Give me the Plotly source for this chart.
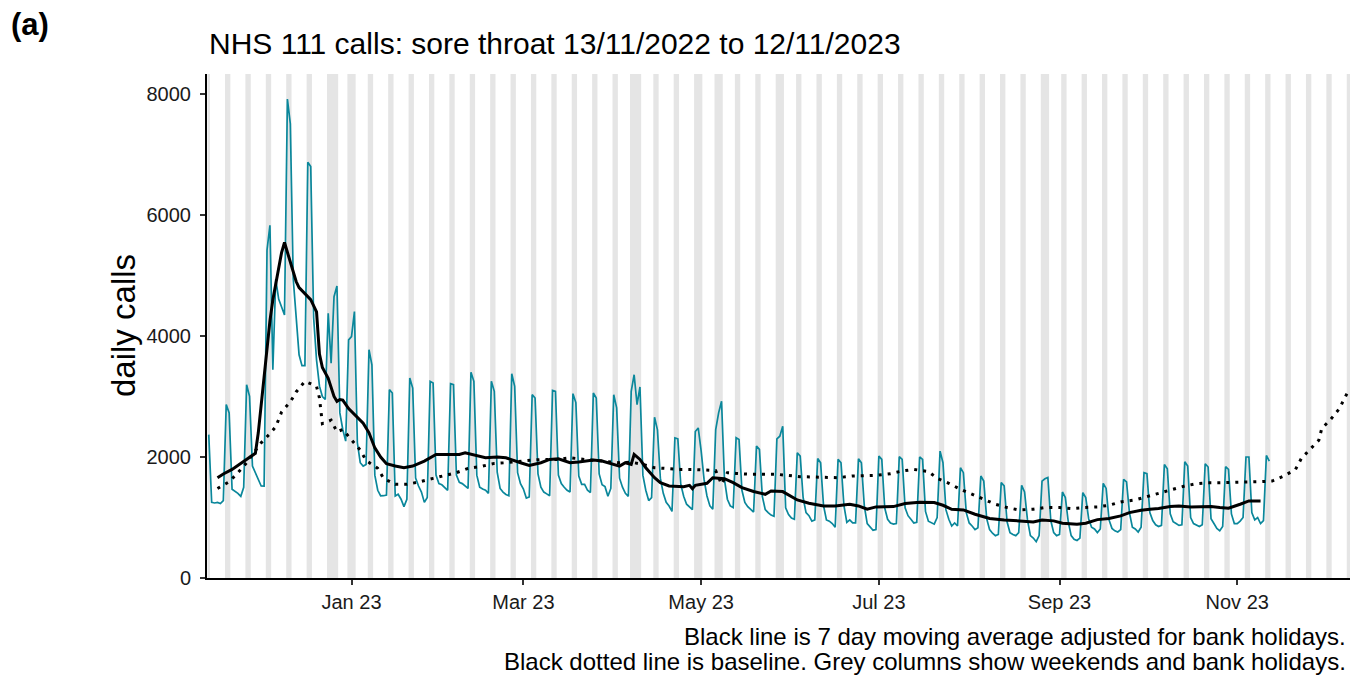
import plotly.graph_objects as go
import pandas as pd

# ---------------- data ----------------
start_date = "2022-11-13"

# daily NHS 111 calls (first value is Sun 13/11/2022, then Mon..Sun weeks)
daily_calls = [
    2370,
    1250, 1240, 1250, 1230, 1280, 2866, 2729,
    1466, 1433, 1400, 1350, 1500, 3195, 3004,
    1850, 1741, 1631, 1521, 1520, 5419, 5830,
    3442, 4941, 4610, 4480, 4348, 7917, 7505,
    4941, 4270, 3690, 3509, 3509, 6873, 6802,
    4300, 3600, 3170, 3000, 2950, 4376, 3552,
    4650, 4826, 2729, 2454, 2262, 3936, 3991,
    4403, 2235, 1905, 1850, 1877, 3772, 3525,
    1700, 1450, 1356, 1360, 1370, 3113, 3058,
    1356, 1384, 1302, 1180, 1302, 3305, 3140,
    1650, 1520, 1420, 1250, 1330, 3250, 3223,
    1700, 1560, 1540, 1500, 1450, 3212, 3195,
    1700, 1580, 1560, 1520, 1480, 3400, 3250,
    1700, 1500, 1470, 1450, 1400, 3250, 3085,
    1750, 1480, 1420, 1380, 1360, 3375, 3168,
    1740, 1560, 1470, 1320, 1340, 3030, 2975,
    1720, 1500, 1420, 1390, 1360, 3100, 3085,
    1700, 1560, 1500, 1450, 1420, 3047, 2900,
    1686, 1548, 1548, 1450, 1412, 3058, 2975,
    1720, 1540, 1510, 1350, 1480, 3030, 2811,
    1650, 1500, 1400, 1350, 3085, 3360, 2866,
    3157, 1700, 1450, 1280, 1330, 2658, 2449,
    1650, 1400, 1250, 1190, 1100, 2317, 2300,
    1550, 1350, 1220, 1180, 1130, 2420, 2480,
    2100, 1630, 1356, 1192, 1136, 2454, 2729,
    2921, 1630, 1302, 1192, 1164, 2317, 2289,
    1450, 1250, 1180, 1130, 1090, 2180, 2125,
    1350, 1130, 1080, 1040, 1020, 2300, 2344,
    2509, 1160, 1050, 990, 970, 2070, 2015,
    1330, 1080, 1030, 940, 960, 1976, 1905,
    1200, 960, 940, 900, 840, 1960, 1905,
    1200, 920, 960, 910, 910, 1970, 1905,
    1190, 900, 840, 790, 800, 2015, 1960,
    1160, 970, 910, 890, 900, 2004, 1960,
    1160, 1030, 970, 910, 920, 2000, 1960,
    1100, 940, 910, 890, 1000, 2097, 1905,
    1130, 970, 860, 910, 860, 1823, 1741,
    1080, 910, 860, 800, 830, 1686, 1603,
    980, 800, 740, 700, 720, 1576, 1521,
    930, 750, 720, 700, 750, 1532, 1422,
    960, 700, 660, 600, 700, 1600, 1640,
    1660, 950, 750, 700, 720, 1422, 1330,
    930, 700, 640, 620, 660, 1412, 1330,
    980, 840, 810, 750, 810, 1565, 1480,
    960, 820, 780, 760, 800, 1631, 1587,
    1080, 840, 810, 760, 840, 1741, 1724,
    1080, 950, 880, 850, 870, 1877, 1806,
    1060, 930, 900, 870, 880, 1921, 1850,
    1000, 900, 870, 850, 880, 1888, 1834,
    980, 900, 820, 780, 850, 1839, 1795,
    1060, 900, 900, 940, 1000, 2000, 2000,
    1080, 960, 1000, 900, 950, 2026, 1933,
]

# 7 day moving average (black line)
ma_dates = [
    "2022-11-16", "2022-11-18", "2022-11-21", "2022-11-23", "2022-11-25", "2022-11-27",
    "2022-11-29", "2022-11-30", "2022-12-01", "2022-12-02", "2022-12-03", "2022-12-04",
    "2022-12-05", "2022-12-06", "2022-12-07", "2022-12-08", "2022-12-09", "2022-12-10",
    "2022-12-11", "2022-12-12", "2022-12-13", "2022-12-14", "2022-12-16", "2022-12-18",
    "2022-12-20", "2022-12-21", "2022-12-22", "2022-12-24", "2022-12-26", "2022-12-27",
    "2022-12-28", "2022-12-29", "2022-12-31", "2023-01-02", "2023-01-04", "2023-01-05",
    "2023-01-07", "2023-01-09", "2023-01-11", "2023-01-13", "2023-01-16", "2023-01-19",
    "2023-01-22", "2023-01-26", "2023-01-30", "2023-02-04", "2023-02-07", "2023-02-09",
    "2023-02-13", "2023-02-16", "2023-02-20", "2023-02-23", "2023-02-28", "2023-03-03",
    "2023-03-07", "2023-03-10", "2023-03-13", "2023-03-17", "2023-03-20", "2023-03-25",
    "2023-03-28", "2023-04-01", "2023-04-03", "2023-04-05", "2023-04-07", "2023-04-08",
    "2023-04-10", "2023-04-12", "2023-04-15", "2023-04-17", "2023-04-20", "2023-04-25",
    "2023-04-27", "2023-04-28", "2023-04-29", "2023-05-03", "2023-05-05", "2023-05-09",
    "2023-05-12", "2023-05-15", "2023-05-19", "2023-05-23", "2023-05-25", "2023-05-29",
    "2023-06-03", "2023-06-07", "2023-06-12", "2023-06-16", "2023-06-21", "2023-06-24",
    "2023-06-27", "2023-06-30", "2023-07-06", "2023-07-10", "2023-07-15", "2023-07-20",
    "2023-07-23", "2023-07-26", "2023-07-30", "2023-08-03", "2023-08-08", "2023-08-13",
    "2023-08-17", "2023-08-23", "2023-08-26", "2023-08-30", "2023-09-02", "2023-09-07",
    "2023-09-10", "2023-09-14", "2023-09-18", "2023-09-22", "2023-09-25", "2023-09-29",
    "2023-10-02", "2023-10-05", "2023-10-09", "2023-10-12", "2023-10-16", "2023-10-19",
    "2023-10-23", "2023-10-26", "2023-10-29", "2023-11-02", "2023-11-05", "2023-11-09",
]
ma_values = [
    1658, 1720, 1795, 1860, 1916, 1990,
    2060, 2400, 2850, 3280, 3820, 4250,
    4600, 4880, 5140, 5380, 5545, 5380,
    5200, 5050, 4900, 4800, 4700, 4600,
    4400, 3700, 3480, 3300, 3000, 2920,
    2950, 2940, 2800, 2700, 2600, 2560,
    2400, 2150, 2000, 1890, 1850, 1823,
    1850, 1933, 2042, 2042, 2042, 2070,
    2026, 1987, 2000, 1987, 1905, 1861,
    1905, 1960, 1970, 1905, 1916, 1949,
    1933, 1877, 1850, 1905, 1877, 2042,
    1960, 1823, 1658, 1576, 1521, 1510,
    1532, 1477, 1532, 1565, 1658, 1642,
    1576, 1494, 1430, 1383, 1438, 1428,
    1290, 1235, 1191, 1191, 1219, 1191,
    1136, 1175, 1180, 1230, 1252, 1246,
    1202, 1136, 1125, 1054, 983, 960,
    944, 927, 960, 944, 906, 889,
    906, 965, 983, 1026, 1081, 1120,
    1136, 1147, 1180, 1191, 1175, 1175,
    1180, 1164, 1153, 1219, 1274, 1274,
]

# baseline (black dotted line)
base_dates = [
    "2022-11-16", "2022-11-20", "2022-11-23", "2022-11-26", "2022-11-28", "2022-12-01",
    "2022-12-04", "2022-12-06", "2022-12-08", "2022-12-11", "2022-12-13", "2022-12-16",
    "2022-12-19", "2022-12-20", "2022-12-21", "2022-12-22", "2022-12-25", "2022-12-27",
    "2022-12-29", "2023-01-01", "2023-01-04", "2023-01-06", "2023-01-10", "2023-01-12",
    "2023-01-16", "2023-01-20", "2023-01-24", "2023-01-29", "2023-02-02", "2023-02-06",
    "2023-02-10", "2023-02-15", "2023-02-19", "2023-02-23", "2023-03-04", "2023-03-08",
    "2023-03-13", "2023-03-17", "2023-03-22", "2023-03-28", "2023-04-03", "2023-04-07",
    "2023-04-11", "2023-04-15", "2023-04-20", "2023-04-24", "2023-04-28", "2023-05-03",
    "2023-05-06", "2023-05-08", "2023-05-10", "2023-05-13", "2023-05-18", "2023-05-22",
    "2023-05-27", "2023-05-31", "2023-06-04", "2023-06-08", "2023-06-13", "2023-06-17",
    "2023-06-22", "2023-06-26", "2023-06-30", "2023-07-05", "2023-07-09", "2023-07-13",
    "2023-07-18", "2023-07-21", "2023-07-25", "2023-07-29", "2023-08-02", "2023-08-06",
    "2023-08-10", "2023-08-14", "2023-08-18", "2023-08-23", "2023-08-27", "2023-09-01",
    "2023-09-05", "2023-09-09", "2023-09-14", "2023-09-18", "2023-09-22", "2023-09-27",
    "2023-10-01", "2023-10-05", "2023-10-09", "2023-10-14", "2023-10-18", "2023-10-22",
    "2023-10-26", "2023-10-31", "2023-11-04", "2023-11-09", "2023-11-13", "2023-11-17",
    "2023-11-21", "2023-11-23", "2023-11-26", "2023-11-29", "2023-11-30", "2023-12-03",
    "2023-12-06", "2023-12-08", "2023-12-09",
]
base_values = [
    1480, 1590, 1740, 1905, 2042, 2235,
    2385, 2500, 2745, 2910, 3075, 3250,
    3190, 3167, 2976, 2550, 2608, 2416,
    2454, 2278, 2113, 1943, 1812, 1647,
    1548, 1548, 1586, 1647, 1696, 1741,
    1812, 1850, 1894, 1905, 1949, 1960,
    1960, 1987, 1960, 1930, 1905, 1915,
    1877, 1823, 1806, 1795, 1795, 1784,
    1775, 1548, 1740, 1729, 1713, 1713,
    1713, 1696, 1675, 1670, 1658, 1658,
    1686, 1696, 1696, 1724, 1768, 1795,
    1760, 1647, 1565, 1466, 1383, 1312,
    1219, 1164, 1125, 1136, 1164, 1164,
    1147, 1164, 1175, 1202, 1257, 1290,
    1345, 1400, 1455, 1521, 1559, 1576,
    1576, 1576, 1586, 1592, 1603, 1686,
    1795, 1976, 2125, 2278, 2470, 2619,
    2795, 3003, 3080,
]

bank_holidays = [
    "2022-12-26", "2022-12-27", "2023-01-02", "2023-04-07", "2023-04-10",
    "2023-05-01", "2023-05-08", "2023-05-29", "2023-08-28",
]

x_tick_vals = ["2023-01-01", "2023-03-01", "2023-05-01", "2023-07-01", "2023-09-01", "2023-11-01"]
x_tick_text = ["Jan 23", "Mar 23", "May 23", "Jul 23", "Sep 23", "Nov 23"]
y_tick_vals = [0, 2000, 4000, 6000, 8000]
y_tick_text = ["0", "2000", "4000", "6000", "8000"]

# ---------------- figure ----------------
dates = pd.date_range(start_date, periods=len(daily_calls), freq="D")
FONT = "Liberation Sans, Arial, Helvetica, sans-serif"

fig = go.Figure()
fig.add_trace(go.Scatter(x=dates, y=daily_calls, mode="lines",
                         line=dict(color="#0A879B", width=1.7), hoverinfo="skip"))
fig.add_trace(go.Scatter(x=pd.to_datetime(base_dates), y=base_values, mode="lines",
                         line=dict(color="black", width=3, dash="3px,6px"), hoverinfo="skip"))
fig.add_trace(go.Scatter(x=pd.to_datetime(ma_dates), y=ma_values, mode="lines",
                         line=dict(color="black", width=3), hoverinfo="skip"))

# grey columns: weekends and bank holidays
all_days = pd.date_range("2022-11-13", "2023-12-10", freq="D")
bh = set(pd.to_datetime(bank_holidays))
grey_days = [d for d in all_days if d.weekday() >= 5 or d in bh]
runs = []
for d in grey_days:
    if runs and (d - runs[-1][1]).days == 1:
        runs[-1][1] = d
    else:
        runs.append([d, d])
half = pd.Timedelta(hours=10)
shapes = []
for a, b in runs:
    shapes.append(dict(type="rect", xref="x", yref="paper",
                       x0=a - half, x1=b + half, y0=0, y1=1,
                       fillcolor="#E5E5E5", line=dict(width=0), layer="below"))

L, R, T, B = 207, 0, 74, 97
W, H = 1350, 675
pw, ph = W - L - R, H - T - B

def px(xp):
    return (xp - L) / pw

def py(yp):
    return (H - B - yp) / ph

annotations = [
    dict(text="<b>(a)</b>", x=px(9), y=py(25), xref="paper", yref="paper",
         xanchor="left", yanchor="middle", showarrow=False,
         font=dict(family=FONT, size=31, color="black")),
    dict(text="NHS 111 calls: sore throat 13/11/2022 to 12/11/2023", x=px(207), y=py(43),
         xref="paper", yref="paper", xanchor="left", yanchor="middle", showarrow=False,
         font=dict(family=FONT, size=30, color="black")),
    dict(text="daily calls", x=px(123), y=py(326), xref="paper", yref="paper",
         xanchor="center", yanchor="middle", textangle=-90, showarrow=False,
         font=dict(family=FONT, size=33, color="black")),
    dict(text="Black line is 7 day moving average adjusted for bank holidays.",
         x=px(1348), y=py(636), xref="paper", yref="paper",
         xanchor="right", yanchor="middle", showarrow=False,
         font=dict(family=FONT, size=24, color="black")),
    dict(text="Black dotted line is baseline. Grey columns show weekends and bank holidays.",
         x=px(1348), y=py(661), xref="paper", yref="paper",
         xanchor="right", yanchor="middle", showarrow=False,
         font=dict(family=FONT, size=24, color="black")),
]

axis_common = dict(showgrid=False, zeroline=False, showline=True, linecolor="black",
                   linewidth=2, ticks="outside", ticklen=5, tickwidth=1.5,
                   tickcolor="#333333", tickfont=dict(family=FONT, size=20, color="#1a1a1a"))

fig.update_layout(
    width=W, height=H,
    margin=dict(l=L, r=R, t=T, b=B, pad=0),
    paper_bgcolor="white", plot_bgcolor="white",
    showlegend=False,
    shapes=shapes,
    annotations=annotations,
    xaxis=dict(type="date",
               range=["2022-11-12 09:36", "2023-12-09 16:48"],
               tickvals=x_tick_vals, ticktext=x_tick_text, **axis_common),
    yaxis=dict(range=[0, 8330], tickvals=y_tick_vals, ticktext=y_tick_text,
               ticklabelstandoff=5, **axis_common),
)

fig.write_html("out.html", config={"displayModeBar": False},
               post_script="document.body.style.margin='0px';")
